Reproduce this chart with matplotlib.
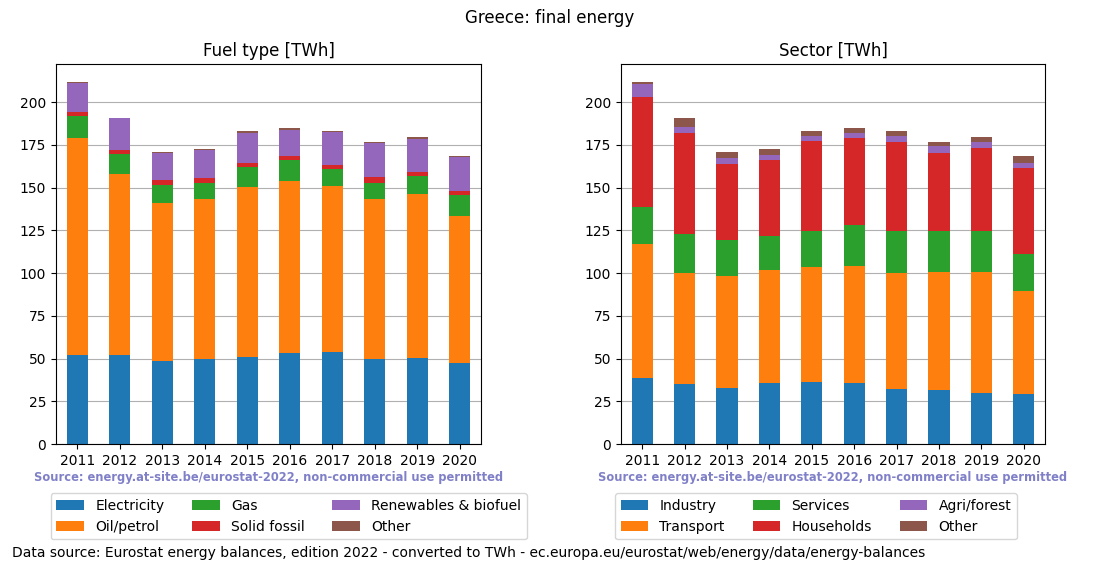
import numpy as np
import matplotlib
matplotlib.use("Agg")
import matplotlib.pyplot as plt

years = ["2011", "2012", "2013", "2014", "2015", "2016", "2017", "2018", "2019", "2020"]

# fuel type [TWh]
electricity = [52.0, 52.0, 48.7, 49.5, 50.9, 53.2, 53.8, 49.5, 50.3, 47.4]
oil = [126.9, 105.9, 92.2, 93.8, 99.4, 100.6, 97.1, 93.8, 95.9, 85.9]
gas = [12.9, 11.7, 10.6, 9.3, 11.7, 12.3, 9.9, 9.3, 10.5, 12.3]
solid = [2.4, 2.3, 2.9, 3.0, 2.3, 2.3, 2.4, 3.5, 2.4, 2.4]
renewables = [16.9, 18.7, 15.8, 16.3, 17.6, 15.2, 19.3, 19.9, 19.3, 19.8]
other_fuel = [0.6, 0.2, 0.6, 0.6, 1.1, 1.2, 0.5, 0.6, 1.1, 0.6]

# sector [TWh]
industry = [38.6, 35.1, 32.7, 35.7, 36.3, 35.7, 32.2, 31.6, 29.8, 29.2]
transport = [78.4, 64.7, 65.5, 66.1, 67.2, 68.4, 67.6, 69.0, 70.8, 60.3]
services = [21.6, 23.2, 21.1, 19.8, 21.1, 24.0, 24.8, 24.0, 24.0, 21.6]
households = [64.3, 58.9, 44.4, 44.5, 52.6, 50.8, 52.0, 45.6, 48.5, 50.3]
agri = [7.6, 3.5, 3.6, 2.9, 2.9, 3.0, 3.5, 3.9, 3.5, 2.9]
other_sector = [1.2, 5.2, 3.5, 3.5, 2.9, 2.9, 2.9, 2.5, 2.9, 4.1]

fuel_names = ["Electricity", "Oil/petrol", "Gas", "Solid fossil", "Renewables & biofuel", "Other"]
sector_names = ["Industry", "Transport", "Services", "Households", "Agri/forest", "Other"]
colors = ["#1f77b4", "#ff7f0e", "#2ca02c", "#d62728", "#9467bd", "#8c564b"]

W, H = 1100, 572
fig = plt.figure(figsize=(11, 5.72), dpi=100)
ax1 = fig.add_axes([56/W, 128/H, 425/W, 380/H])
ax2 = fig.add_axes([621/W, 128/H, 424/W, 380/H])


def stacked(ax, series, names, title, leg_x):
    x = np.arange(len(years))
    bottom = np.zeros(len(years))
    for vals, name, c in zip(series, names, colors):
        ax.bar(x, vals, 0.5, bottom=bottom, color=c, label=name, zorder=2)
        bottom += np.array(vals)
    ax.set_xlim(-0.5, len(years) - 0.5)
    ax.set_ylim(0, bottom.max() * 1.05)
    ax.set_xticks(x)
    ax.set_xticklabels(years)
    ax.yaxis.grid(True, color="#b0b0b0", zorder=0)
    ax.set_axisbelow(True)
    ax.set_title(title, fontsize=12)
    ax.text(0.5, -0.0887, "Source: energy.at-site.be/eurostat-2022, non-commercial use permitted",
            transform=ax.transAxes, ha="center", va="center", fontsize=8.3,
            fontweight="bold", color="#8080c8")
    ax.legend(loc="upper left", bbox_to_anchor=(leg_x/W, (H - 493.3)/H),
              bbox_transform=fig.transFigure, ncol=3, borderaxespad=0,
              fontsize=10)


stacked(ax1, [electricity, oil, gas, solid, renewables, other_fuel], fuel_names,
        "Fuel type [TWh]", 50.7)
stacked(ax2, [industry, transport, services, households, agri, other_sector], sector_names,
        "Sector [TWh]", 615)

fig.suptitle("Greece: final energy", y=1 - 18/H, va="center", fontsize=12)
fig.text(11.5/W, 1 - 553.3/H,
         "Data source: Eurostat energy balances, edition 2022 - converted to TWh - ec.europa.eu/eurostat/web/energy/data/energy-balances",
         ha="left", va="center", fontsize=10)

fig.savefig("out.png", dpi=100)
